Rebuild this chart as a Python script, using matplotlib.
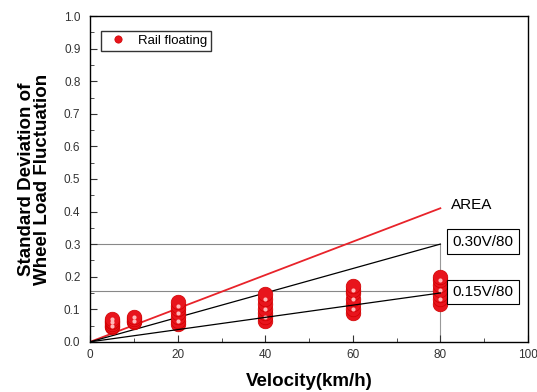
import matplotlib
matplotlib.use('Agg')
import matplotlib.pyplot as plt
from matplotlib.ticker import MultipleLocator

plt.rcParams['font.family'] = ['Liberation Sans', 'DejaVu Sans']

# measured std. dev. of wheel load fluctuation per speed
speeds = [5, 10, 20, 40, 60, 80]
values = [
    [0.045, 0.05, 0.055, 0.06, 0.065, 0.07],
    [0.06, 0.065, 0.07, 0.077],
    [0.055, 0.065, 0.075, 0.09, 0.10, 0.11, 0.123],
    [0.065, 0.075, 0.09, 0.10, 0.115, 0.13, 0.147],
    [0.09, 0.10, 0.115, 0.13, 0.15, 0.16, 0.172],
    [0.115, 0.13, 0.145, 0.16, 0.175, 0.19, 0.20],
]

# criteria lines (V = 0 .. 80)
line_v = [0, 80]
area_y = [0, 0.41]
upper_y = [0, 0.30]
lower_y = [0, 0.15]

fig = plt.figure(figsize=(5.37, 3.92), dpi=100)
ax = fig.add_axes([0.168, 0.128, 0.815, 0.831])

# guide lines
ax.plot([0, 80], [0.30, 0.30], color='#888888', lw=0.8, zorder=1)
ax.plot([0, 80], [0.155, 0.155], color='#888888', lw=0.8, zorder=1)
ax.plot([80, 80], [0, 0.30], color='#999999', lw=0.8, zorder=1)

ax.plot(line_v, area_y, color='#e8232a', lw=1.3, zorder=2)
ax.plot(line_v, upper_y, color='black', lw=0.9, zorder=2)
ax.plot(line_v, lower_y, color='black', lw=0.9, zorder=4)

first = True
for v, ys in zip(speeds, values):
    xs = [v] * len(ys)
    ax.plot(xs, ys, 'o', ms=10.5, color='#e8141c', mec='#d00000', mew=0.5,
            zorder=3, label='Rail floating' if first else None)
    # white highlights on a few of the balls
    ax.plot(xs[1::2], ys[1::2], 'o', ms=3, color='#ffb8b8', mew=0, zorder=3)
    first = False

ax.text(82.5, 0.42, 'AREA', fontsize=11, va='center', ha='left')
box = dict(boxstyle='square,pad=0.35', fc='white', ec='black', lw=0.8)
ax.text(82.8, 0.307, '0.30V/80', fontsize=11, va='center', ha='left', bbox=box)
ax.text(82.8, 0.153, '0.15V/80', fontsize=11, va='center', ha='left', bbox=box)

ax.set_xlim(0, 100)
ax.set_ylim(0, 1.0)
ax.xaxis.set_major_locator(MultipleLocator(20))
ax.xaxis.set_minor_locator(MultipleLocator(10))
ax.yaxis.set_major_locator(MultipleLocator(0.1))
ax.yaxis.set_minor_locator(MultipleLocator(0.05))
ax.tick_params(which='both', direction='in', labelsize=8.5, color='#333333',
               labelcolor='#333333')
ax.tick_params(which='major', length=5)
ax.tick_params(which='minor', length=3)
ax.tick_params(axis='y', which='major', pad=7)
ax.tick_params(axis='x', which='major', pad=5)
ax.yaxis.set_major_formatter(plt.FuncFormatter(lambda y, p: '%.1f' % y))
for s in ax.spines.values():
    s.set_linewidth(1.0)

ax.set_xlabel('Velocity(km/h)', fontsize=13.5, fontweight='bold', labelpad=9)
ax.set_ylabel('Standard Deviation of\nWheel Load Fluctuation', fontsize=13.5,
              fontweight='bold', labelpad=9, linespacing=0.95)

ax.legend(loc='upper left', fontsize=9.5, frameon=True, fancybox=False,
          edgecolor='black', handletextpad=0.5, borderpad=0.3,
          markerscale=0.5, bbox_to_anchor=(0.01, 0.975))

fig.savefig('out.png', dpi=100)
